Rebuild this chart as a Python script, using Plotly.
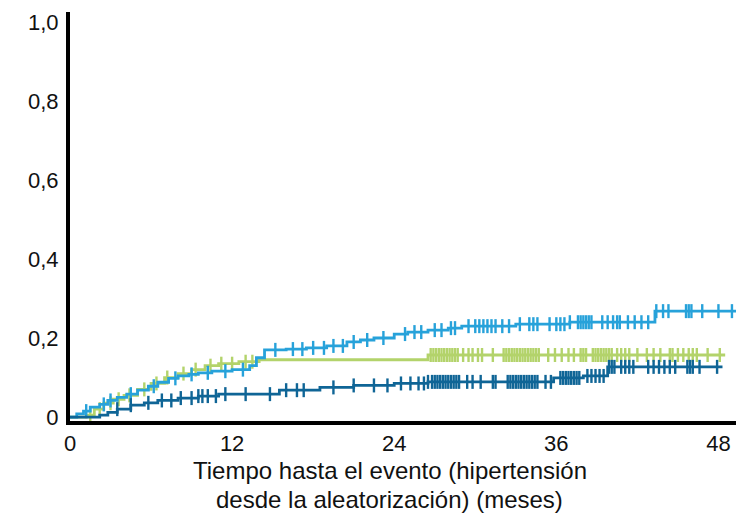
import plotly.graph_objects as go

# Cumulative incidence of hypertension by arm (step curves): event times (months) and values
cyan_t = [0, 0.5, 1.0, 1.5, 2.2, 2.8, 3.5, 4.2, 5.0, 5.8, 6.5, 7.3, 8.0, 8.8, 9.5, 10.5, 12.0,
          13.3, 13.8, 14.4, 16.0, 17.5, 19.0, 20.5, 21.5, 22.5, 24.0, 25.0, 26.5, 28.0, 29.0,
          33.0, 37.0, 43.3, 49.3]
cyan_v = [0, 0.008, 0.015, 0.025, 0.032, 0.042, 0.05, 0.058, 0.068, 0.078, 0.088, 0.098, 0.104,
          0.108, 0.112, 0.116, 0.12, 0.13, 0.15, 0.17, 0.172, 0.175, 0.18, 0.19, 0.195, 0.20,
          0.21, 0.215, 0.22, 0.225, 0.23, 0.235, 0.24, 0.268, 0.268]
cyan_cens = [1.2, 2.5, 3.0, 4.5, 6.2, 7.8, 9.0, 10.2, 11.5, 12.8, 15.2, 16.5, 17.2, 18.0, 18.8,
             19.5, 20.2, 21.0, 22.0, 23.2, 24.8, 25.5, 26.0, 27.0, 27.5, 28.2, 28.5, 29.5, 30.0,
             30.3, 30.6, 30.9, 31.2, 31.5, 32.0, 32.5, 33.3, 34.0, 34.3, 34.6, 35.5, 36.0, 36.3,
             36.6, 37.0, 37.6, 37.8, 38.0, 38.2, 38.4, 38.6, 39.4, 39.8, 40.2, 40.5, 40.7, 41.3,
             41.8, 42.3, 42.8, 43.4, 43.9, 44.3, 45.6, 45.8, 46.0, 46.8, 48.0, 49.0]

green_t = [0, 1.2, 1.8, 2.5, 3.2, 4.0, 5.0, 6.0, 7.0, 8.0, 9.0, 10.0, 11.0, 12.5, 14.0, 26.5, 48.5]
green_v = [0, 0.005, 0.02, 0.035, 0.045, 0.055, 0.07, 0.085, 0.10, 0.11, 0.12, 0.13, 0.135,
           0.14, 0.145, 0.157, 0.157]
green_cens = [1.5, 2.2, 3.0, 3.6, 4.4, 5.5, 6.4, 7.2, 8.4, 9.3, 10.4, 11.2, 12.0, 13.0, 13.5,
              26.7, 26.9, 27.1, 27.3, 27.5, 27.7, 27.9, 28.1, 28.3, 28.5, 28.7, 29.1, 29.5, 29.8,
              30.2, 30.5, 31.3, 32.1, 32.3, 32.5, 32.7, 32.9, 33.1, 33.3, 33.5, 33.7, 33.9, 34.1,
              34.3, 34.5, 34.7, 35.4, 35.9, 36.4, 36.9, 37.3, 37.8, 38.0, 38.2, 38.7, 38.9, 39.1,
              39.3, 39.5, 39.7, 39.9, 40.1, 40.5, 40.8, 41.1, 41.4, 42.0, 42.7, 43.2, 43.7, 44.4,
              44.6, 45.0, 45.4, 45.8, 46.1, 46.4, 47.2, 48.1]

navy_t = [0, 2.2, 2.8, 3.5, 4.5, 5.5, 6.5, 8.0, 9.5, 11.0, 15.5, 18.5, 21.0, 24.0, 26.5, 35.8,
          38.0, 39.8, 48.3]
navy_v = [0, 0.005, 0.012, 0.02, 0.03, 0.036, 0.042, 0.048, 0.053, 0.058, 0.068, 0.075, 0.08,
          0.085, 0.089, 0.099, 0.104, 0.127, 0.127]
navy_cens = [3.5, 4.5, 5.8, 6.8, 7.5, 8.2, 9.0, 9.5, 9.8, 10.2, 10.8, 11.5, 13.0, 14.8, 16.0,
             16.8, 17.3, 19.5, 21.0, 22.5, 23.5, 24.5, 25.2, 25.8, 26.2, 26.5, 26.8, 27.0, 27.2,
             27.4, 27.6, 27.8, 28.0, 28.2, 28.4, 28.6, 28.8, 29.4, 29.8, 30.4, 31.3, 31.5, 32.4,
             32.6, 32.8, 33.0, 33.2, 33.4, 33.6, 33.8, 34.0, 34.2, 34.4, 34.6, 35.2, 35.6, 36.3,
             36.5, 36.7, 36.9, 37.1, 37.3, 37.5, 37.7, 38.3, 38.6, 38.9, 39.2, 39.5, 39.9, 40.1,
             40.3, 40.8, 41.1, 41.4, 41.7, 42.8, 43.2, 43.6, 44.0, 44.4, 44.8, 45.7, 45.9, 46.1,
             46.6, 47.9]

x_ticks = [0, 12, 24, 36, 48]
y_ticks = [0, 0.2, 0.4, 0.6, 0.8, 1.0]
y_ticktext = ["0", "0,2", "0,4", "0,6", "0,8", "1,0"]
x_title_lines = ["Tiempo hasta el evento (hipertensión", "desde la aleatorización) (meses)"]

series = [
    (green_t, green_v, green_cens, "#b3d36b"),
    (cyan_t, cyan_v, cyan_cens, "#27a2da"),
    (navy_t, navy_v, navy_cens, "#0f6596"),
]

FONT = "Liberation Sans, Arial, sans-serif"


def step_value(times, values, t):
    v = values[0]
    for ti, vi in zip(times, values):
        if ti <= t:
            v = vi
        else:
            break
    return v


fig = go.Figure()
for times, vals, cens, color in series:
    fig.add_trace(go.Scatter(
        x=times, y=vals, mode="lines", line=dict(color=color, width=2.8, shape="hv"),
        showlegend=False, hoverinfo="skip"))
    fig.add_trace(go.Scatter(
        x=cens, y=[step_value(times, vals, c) for c in cens], mode="markers",
        marker=dict(symbol="line-ns", size=10, line=dict(color=color, width=2.4)),
        showlegend=False, hoverinfo="skip"))

# Two-line axis title, one annotation per line
for line_text, y_pos in zip(x_title_lines, [-0.12, -0.193]):
    fig.add_annotation(
        text=line_text, xref="paper", yref="paper", x=0.48, y=y_pos,
        xanchor="center", yanchor="middle", showarrow=False,
        font=dict(family=FONT, size=24, color="#111"))

fig.update_layout(
    width=744, height=516,
    margin=dict(l=70, r=8, t=12, b=95),
    paper_bgcolor="white", plot_bgcolor="white",
    font=dict(family=FONT, size=22, color="#111"),
    xaxis=dict(range=[0, 49.3], tickvals=x_ticks, ticktext=[str(v) for v in x_ticks],
               showline=True, linecolor="black", linewidth=4, showgrid=False, zeroline=False,
               ticks="", ticklabelstandoff=0),
    yaxis=dict(range=[-0.01, 1.025], tickvals=y_ticks, ticktext=y_ticktext,
               showline=True, linecolor="black", linewidth=4, showgrid=False, zeroline=False,
               ticks="", ticklabelstandoff=3),
)

fig.write_html("out.html")
